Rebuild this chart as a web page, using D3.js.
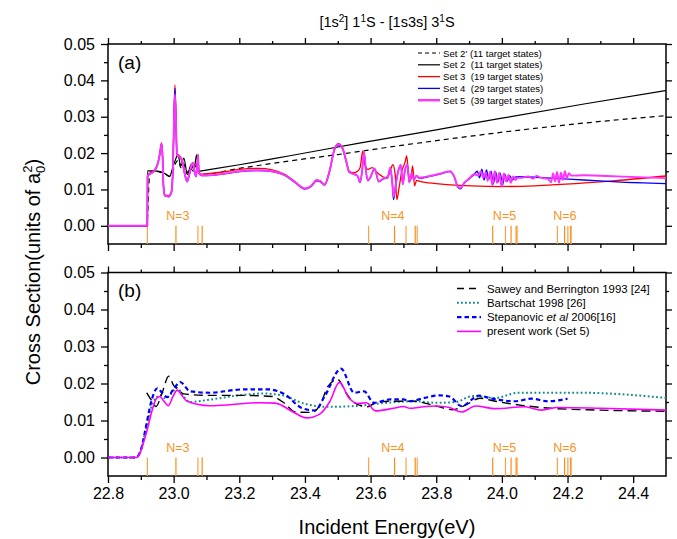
<!DOCTYPE html>
<html>
<head>
<meta charset="utf-8">
<script src="https://cdn.jsdelivr.net/npm/d3@7"></script>
<style>
  body { margin: 0; background: #fff; }
  text { font-family: "Liberation Sans", Arial, sans-serif; }
</style>
</head>
<body>
<div id="chart"></div>
<script>
// ---- data ----
var xMajor = [22.8, 23.0, 23.2, 23.4, 23.6, 23.8, 24.0, 24.2, 24.4];
var xMinor = [22.9, 23.1, 23.3, 23.5, 23.7, 23.9, 24.1, 24.3];
var yMajor = [0.00, 0.01, 0.02, 0.03, 0.04, 0.05];
var yMinor = [0.005, 0.015, 0.025, 0.035, 0.045];

// He thresholds (eV), grouped by n
var thresholds = [22.920, 23.007, 23.074, 23.087,
                  23.594, 23.673, 23.708, 23.736, 23.742,
                  23.972, 24.011, 24.028, 24.043, 24.046,
                  24.169, 24.191, 24.201, 24.209, 24.211];
var nLabels = ["N=3", "N=4", "N=5", "N=6"];
var nLabelPos = [23.013, 23.668, 24.008, 24.192];

// panel (a)
var set2p = [[22.80,0],[22.918,0],[22.921,0.003],[22.925,0.012],[22.93,0.0148],[22.94,0.0150],[22.96,0.0147],
  [22.975,0.0142],[22.988,0.0136],[22.998,0.0150],[23.006,0.0172],[23.014,0.0180],[23.022,0.0160],[23.03,0.0172],
  [23.04,0.0145],[23.05,0.0160],[23.06,0.0150],[23.072,0.0170],[23.078,0.0143],[23.09,0.0142],[23.2,0.0158],
  [23.35,0.0178],[23.5,0.0196],[23.7,0.0222],[23.9,0.0246],[24.1,0.0268],[24.3,0.0287],[24.5,0.0303]];

var set2 = [[22.80,0],[22.920,0],[22.9205,0.0151],[22.94,0.0151],[22.96,0.0149],[22.975,0.0143],[22.988,0.0136],
  [22.997,0.0160],[23.004,0.0178],[23.013,0.0195],[23.022,0.0165],[23.031,0.0186],[23.042,0.0141],[23.053,0.0168],
  [23.062,0.0155],[23.070,0.0195],[23.076,0.0150],[23.09,0.0152],[23.2,0.0168],[23.35,0.0192],[23.57,0.0228],
  [23.8,0.0264],[24.0,0.0296],[24.25,0.0335],[24.5,0.0372]];

var set3 = [[22.80,0],[22.920,0],[22.9205,0.0139],[22.930,0.0146],[22.942,0.0154],[22.952,0.0174],[22.958,0.0200],
  [22.963,0.0229],[22.966,0.0197],[22.969,0.0112],[22.973,0.0085],[22.985,0.0083],[22.993,0.0094],[22.998,0.0165],
  [23.001,0.0300],[23.004,0.0387],[23.007,0.0295],[23.010,0.0198],[23.018,0.0193],[23.026,0.0180],[23.034,0.0144],
  [23.041,0.0124],[23.048,0.0144],[23.055,0.0170],[23.059,0.0174],[23.064,0.0150],[23.068,0.0138],[23.072,0.0167],
  [23.074,0.0197],[23.077,0.0147],[23.085,0.0142],[23.10,0.0143],[23.15,0.0148],[23.20,0.0155],[23.26,0.0158],
  [23.30,0.0154],[23.34,0.0141],[23.37,0.0121],[23.40,0.0103],[23.42,0.0111],[23.435,0.0126],[23.447,0.0123],
  [23.46,0.0114],[23.475,0.0152],[23.49,0.0212],[23.502,0.0226],[23.515,0.0214],[23.525,0.0182],[23.535,0.0150],
  [23.548,0.0146],[23.560,0.0150],[23.568,0.0160],[23.576,0.0205],[23.582,0.0170],[23.592,0.0155],[23.605,0.0160],
  [23.618,0.0148],[23.632,0.0138],[23.645,0.0132],[23.655,0.0140],[23.668,0.0168],[23.675,0.0140],[23.680,0.0072],
  [23.686,0.0100],[23.695,0.0150],[23.705,0.0175],[23.710,0.0192],[23.716,0.0140],[23.722,0.0125],[23.728,0.0165],
  [23.734,0.0110],[23.740,0.0125],[23.75,0.0122],[23.80,0.0116],[23.87,0.0111],[23.99,0.0108],[24.10,0.0110],
  [24.18,0.0114],[24.33,0.0123],[24.5,0.0137]];

var set4 = [[22.80,0],[22.920,0],[22.9205,0.0136],[22.930,0.0143],[22.942,0.0151],[22.952,0.0171],[22.958,0.0197],
  [22.963,0.0225],[22.966,0.0194],[22.969,0.0109],[22.973,0.0082],[22.985,0.0080],[22.993,0.0091],[22.998,0.0160],
  [23.001,0.0295],[23.004,0.0378],[23.007,0.0292],[23.010,0.0195],[23.018,0.0189],[23.026,0.0177],[23.034,0.0141],
  [23.041,0.0121],[23.048,0.0141],[23.055,0.0167],[23.059,0.0171],[23.064,0.0147],[23.068,0.0135],[23.072,0.0164],
  [23.074,0.0193],[23.077,0.0144],[23.085,0.0138],[23.10,0.0138],[23.15,0.0142],[23.20,0.0149],[23.26,0.0152],
  [23.30,0.0149],[23.34,0.0138],[23.37,0.0119],[23.40,0.0101],[23.42,0.0109],[23.435,0.0124],[23.447,0.0121],
  [23.46,0.0112],[23.475,0.0149],[23.49,0.0209],[23.502,0.0223],[23.515,0.0211],[23.525,0.0179],[23.535,0.0147],
  [23.548,0.0142],[23.560,0.0137],[23.568,0.0119],[23.574,0.0149],[23.580,0.0202],[23.586,0.0149],[23.592,0.0124],
  [23.600,0.0134],[23.612,0.0157],[23.625,0.0121],[23.638,0.0129],[23.652,0.0132],[23.660,0.0159],[23.666,0.0119],
  [23.670,0.0072],[23.676,0.0109],[23.684,0.0149],[23.692,0.0167],[23.698,0.0114],[23.705,0.0154],[23.712,0.0167],
  [23.718,0.0119],[23.725,0.0144],[23.732,0.0127],[23.740,0.0137],[23.748,0.0131],[23.78,0.0136],[23.81,0.0142],
  [23.842,0.0149],[23.855,0.0134],[23.866,0.0106],[23.874,0.0102],[23.885,0.0117],[23.90,0.0129],[23.915,0.0141],
  [23.925,0.0150],[23.932,0.0132],[23.939,0.0156],[23.946,0.0126],[23.953,0.0154],[23.960,0.0128],[23.967,0.0150],
  [23.974,0.0115],[23.981,0.0148],[23.988,0.0120],[23.995,0.0145],[24.002,0.0112],[24.009,0.0142],[24.016,0.0122],
  [24.024,0.0138],[24.032,0.0126],[24.040,0.0134],[24.05,0.0135],[24.15,0.0131],[24.25,0.0126],[24.35,0.0121],
  [24.5,0.0116]];

var set5 = [[22.80,0],[22.920,0],[22.9205,0.0137],[22.930,0.0144],[22.942,0.0152],[22.952,0.0172],[22.958,0.0198],
  [22.963,0.0226],[22.966,0.0195],[22.969,0.0110],[22.973,0.0083],[22.985,0.0081],[22.993,0.0092],[22.998,0.0160],
  [23.001,0.0290],[23.004,0.0362],[23.007,0.0290],[23.010,0.0196],[23.018,0.0190],[23.026,0.0178],[23.034,0.0142],
  [23.041,0.0122],[23.048,0.0142],[23.055,0.0168],[23.059,0.0172],[23.064,0.0148],[23.068,0.0136],[23.072,0.0165],
  [23.074,0.0194],[23.077,0.0145],[23.085,0.0139],[23.10,0.0139],[23.15,0.0143],[23.20,0.0150],[23.26,0.0153],
  [23.30,0.0150],[23.34,0.0139],[23.37,0.0120],[23.40,0.0102],[23.42,0.0110],[23.435,0.0125],[23.447,0.0122],
  [23.46,0.0113],[23.475,0.0150],[23.49,0.0210],[23.502,0.0224],[23.515,0.0212],[23.525,0.0180],[23.535,0.0148],
  [23.548,0.0143],[23.560,0.0138],[23.568,0.0120],[23.574,0.0150],[23.580,0.0203],[23.586,0.0150],[23.592,0.0125],
  [23.600,0.0135],[23.612,0.0158],[23.625,0.0122],[23.638,0.0130],[23.652,0.0133],[23.660,0.0160],[23.666,0.0120],
  [23.670,0.0080],[23.676,0.0110],[23.684,0.0150],[23.692,0.0168],[23.698,0.0115],[23.705,0.0155],[23.712,0.0168],
  [23.718,0.0120],[23.725,0.0145],[23.732,0.0128],[23.740,0.0138],[23.748,0.0132],[23.78,0.0137],[23.81,0.0143],
  [23.842,0.0150],[23.855,0.0135],[23.866,0.0108],[23.874,0.0104],[23.885,0.0118],[23.90,0.0130],[23.915,0.0142],
  [23.928,0.0138],[23.936,0.0150],[23.943,0.0132],[23.950,0.0146],[23.957,0.0124],[23.964,0.0148],[23.971,0.0112],
  [23.978,0.0150],[23.985,0.0118],[23.992,0.0146],[23.999,0.0108],[24.006,0.0144],[24.013,0.0122],[24.020,0.0140],
  [24.027,0.0118],[24.034,0.0136],[24.041,0.0126],[24.048,0.0132],
  [24.06,0.0132],[24.08,0.0136],[24.095,0.0130],[24.105,0.0137],[24.12,0.0132],[24.14,0.0129],[24.150,0.0120],
  [24.156,0.0144],[24.162,0.0122],[24.168,0.0148],[24.174,0.0118],[24.180,0.0146],[24.186,0.0126],[24.192,0.0150],
  [24.198,0.0130],[24.204,0.0145],[24.212,0.0138],[24.25,0.0139],[24.35,0.0136],[24.5,0.0131]];

// panel (b)
var sawey = [[22.918,0.0175],[22.932,0.0155],[22.946,0.0138],[22.965,0.0175],[22.985,0.0220],[23.000,0.0195],
  [23.012,0.0185],[23.030,0.0172],[23.10,0.0168],[23.20,0.0168],[23.30,0.0165],[23.34,0.0145],[23.37,0.0123],
  [23.42,0.0122],[23.445,0.0140],[23.47,0.0192],[23.50,0.0211],[23.525,0.0175],[23.55,0.0148],[23.59,0.0137],
  [23.62,0.0150],[23.66,0.0152],[23.73,0.0152],[23.80,0.0139],[23.85,0.0129],[23.89,0.0142],[23.933,0.0160],
  [23.98,0.0152],[24.06,0.0141],[24.15,0.0133],[24.30,0.0128],[24.50,0.0125]];

var bartschat = [[22.80,0],[22.885,0],[22.90,0.0020],[22.915,0.0075],[22.93,0.0130],[22.945,0.0160],[22.96,0.0168],
  [22.975,0.0160],[22.99,0.0170],[23.01,0.0188],[23.03,0.0165],[23.05,0.0150],[23.10,0.0155],[23.20,0.0168],
  [23.27,0.0173],[23.33,0.0168],[23.40,0.0145],[23.47,0.0137],[23.55,0.0139],[23.65,0.0148],[23.73,0.0152],
  [23.80,0.0148],[23.86,0.0150],[23.91,0.0166],[23.98,0.0161],[24.05,0.0175],[24.15,0.0175],[24.24,0.0175],
  [24.50,0.0161]];

var stepanovic = [[22.80,0],[22.885,0],[22.90,0.0020],[22.915,0.0080],[22.93,0.0145],[22.95,0.0187],[22.965,0.0175],
  [22.98,0.0163],[23.00,0.0185],[23.02,0.0204],[23.05,0.0179],[23.11,0.0175],[23.21,0.0184],[23.29,0.0184],
  [23.34,0.0170],[23.39,0.0134],[23.43,0.0127],[23.46,0.0165],[23.51,0.0240],[23.55,0.0175],[23.58,0.0179],
  [23.61,0.0148],[23.66,0.0157],[23.70,0.0157],[23.72,0.0152],[23.76,0.0160],[23.81,0.0168],[23.84,0.0165],
  [23.877,0.0139],[23.93,0.0167],[23.97,0.0159],[24.04,0.0152],[24.09,0.0159],[24.14,0.0152],[24.20,0.0159]];

var present = [[22.80,0],[22.887,0],[22.897,0.0011],[22.908,0.0040],[22.918,0.0070],[22.933,0.0123],[22.948,0.0160],
  [22.958,0.0165],[22.968,0.0155],[22.984,0.0140],[22.998,0.0165],[23.011,0.0182],[23.025,0.0168],[23.041,0.0152],
  [23.11,0.0140],[23.263,0.0148],[23.31,0.0147],[23.364,0.0123],[23.405,0.0107],[23.446,0.0118],[23.475,0.0150],
  [23.505,0.0203],[23.535,0.0160],[23.56,0.0146],[23.587,0.0148],[23.615,0.0126],[23.67,0.0133],[23.70,0.0138],
  [23.72,0.0133],[23.75,0.0136],[23.80,0.0139],[23.84,0.0135],[23.878,0.0123],[23.92,0.0139],[23.98,0.0132],
  [24.07,0.0137],[24.12,0.0128],[24.17,0.0135],[24.30,0.0133],[24.50,0.0128]];

// ---- chart ----
var width = 677, height = 539;
var left = 108, right = 666;
var orange = "#f7931e";

var svg = d3.select("#chart")
    .append("svg")
        .attr("width", width)
        .attr("height", height);

var x = d3.scaleLinear()
    .domain([22.8, 24.5])
    .range([left, right]);

var yA = d3.scaleLinear().domain([-0.005, 0.05]).range([244, 44]);
var yB = d3.scaleLinear().domain([-0.005, 0.05]).range([476, 272.5]);

function drawAxes(y, withLabels, id) {
    var top = y.range()[1], bottom = y.range()[0];

    svg.append("clipPath").attr("id", id)
        .append("rect")
        .attr("x", left).attr("y", top)
        .attr("width", right - left).attr("height", bottom - top);

    var g = svg.append("g").attr("class", "axes");

    var bAxis = d3.axisBottom(x).tickValues(xMajor).tickSize(7).tickSizeOuter(0).tickPadding(5)
        .tickFormat(withLabels ? d3.format(".1f") : "");
    g.append("g").attr("transform", "translate(0," + bottom + ")").call(bAxis);
    g.append("g").attr("transform", "translate(0," + bottom + ")")
        .call(d3.axisBottom(x).tickValues(xMinor).tickSize(4).tickSizeOuter(0).tickFormat(""));

    g.append("g").attr("transform", "translate(0," + top + ")")
        .call(d3.axisTop(x).tickValues(xMajor).tickSize(6).tickSizeOuter(0).tickFormat(""));
    g.append("g").attr("transform", "translate(0," + top + ")")
        .call(d3.axisTop(x).tickValues(xMinor).tickSize(3).tickSizeOuter(0).tickFormat(""));

    g.append("g").attr("transform", "translate(" + left + ",0)")
        .call(d3.axisLeft(y).tickValues(yMajor).tickSize(7).tickSizeOuter(0).tickPadding(6)
            .tickFormat(d3.format(".2f")));
    g.append("g").attr("transform", "translate(" + left + ",0)")
        .call(d3.axisLeft(y).tickValues(yMinor).tickSize(4).tickSizeOuter(0).tickFormat(""));

    g.append("g").attr("transform", "translate(" + right + ",0)")
        .call(d3.axisRight(y).tickValues(yMajor).tickSize(6).tickSizeOuter(0).tickFormat(""));
    g.append("g").attr("transform", "translate(" + right + ",0)")
        .call(d3.axisRight(y).tickValues(yMinor).tickSize(3).tickSizeOuter(0).tickFormat(""));

    g.selectAll(".domain").remove();
    g.selectAll(".tick line").attr("stroke", "#000").attr("stroke-width", 1.3);
    g.selectAll(".tick text").attr("fill", "#000").style("font-size", "16px")
        .style("font-family", "'Liberation Sans', Arial, sans-serif");

    g.append("rect")
        .attr("x", left).attr("y", top)
        .attr("width", right - left).attr("height", bottom - top)
        .attr("fill", "none").attr("stroke", "#000").attr("stroke-width", 1.5);

    // threshold markers
    svg.append("g")
        .selectAll("line")
        .data(thresholds)
        .enter()
        .append("line")
            .attr("x1", function(d) { return x(d); })
            .attr("x2", function(d) { return x(d); })
            .attr("y1", y(0))
            .attr("y2", bottom)
            .attr("stroke", function(d, i) { return i % 2 ? "#ff8c1a" : "#f9a24b"; })
            .attr("stroke-width", 1.2);

    svg.append("g")
        .selectAll("text")
        .data(nLabels)
        .enter()
        .append("text")
            .attr("x", function(d, i) { return x(nLabelPos[i]); })
            .attr("y", y(0) - 6)
            .attr("text-anchor", "middle")
            .attr("fill", orange)
            .style("font-size", "12.5px")
            .text(function(d) { return d; });
}

function drawLine(y, data, clip, color, w, dash) {
    svg.append("path")
        .datum(data)
        .attr("clip-path", "url(#" + clip + ")")
        .attr("fill", "none")
        .attr("stroke", color)
        .attr("stroke-width", w)
        .attr("stroke-dasharray", dash || null)
        .attr("stroke-linejoin", "round")
        .attr("d", d3.line()
            .x(function(d) { return x(d[0]); })
            .y(function(d) { return y(d[1]); })
            .curve(d3.curveMonotoneX));
}

// panel (a)
drawAxes(yA, false, "clipA");
drawLine(yA, set2p, "clipA", "#000", 1.2, "5,4");
drawLine(yA, set2, "clipA", "#000", 1.2);
drawLine(yA, set3, "clipA", "#ff0000", 1.3);
drawLine(yA, set4, "clipA", "#0000ff", 1.3);
drawLine(yA, set5, "clipA", "#ff33ff", 1.9);

// panel (b)
drawAxes(yB, true, "clipB");
drawLine(yB, bartschat, "clipB", "#168a8a", 2, "1.8,2.4");
drawLine(yB, sawey, "clipB", "#000", 1.4, "9,5");
drawLine(yB, stepanovic, "clipB", "#0000ff", 2.2, "4.5,3");
drawLine(yB, present, "clipB", "#ff00ff", 1.6);

// panel tags
svg.append("text").attr("x", 118).attr("y", 69).style("font-size", "19px").text("(a)");
svg.append("text").attr("x", 118).attr("y", 297).style("font-size", "19px").text("(b)");

// legend (a)
var legA = [
    { label: "Set 2' (11 target states)", color: "#000", w: 1.2, dash: "4,3" },
    { label: "Set 2  (11 target states)", color: "#000", w: 1.2 },
    { label: "Set 3  (19 target states)", color: "#ff0000", w: 1.3 },
    { label: "Set 4  (29 target states)", color: "#0000ff", w: 1.3 },
    { label: "Set 5  (39 target states)", color: "#ff33ff", w: 2.4 }
];
var la = svg.append("g");
legA.forEach(function(d, i) {
    var cy = 53 + i * 11.8;
    la.append("line").attr("x1", 418).attr("x2", 440).attr("y1", cy).attr("y2", cy)
        .attr("stroke", d.color).attr("stroke-width", d.w).attr("stroke-dasharray", d.dash || null);
    la.append("text").attr("x", 443).attr("y", cy + 3.5)
        .style("font-size", "9.6px").style("white-space", "pre").text(d.label);
});

// legend (b)
var legB = [
    { label: "Sawey and Berrington 1993 [24]", color: "#000", w: 1.4, dash: "7,5" },
    { label: "Bartschat 1998 [26]", color: "#168a8a", w: 2, dash: "1.8,2.2" },
    { label: "Stepanovic", italic: " et al", rest: " 2006[16]", color: "#0000ff", w: 2.2, dash: "4.5,3" },
    { label: "present work (Set 5)", color: "#ff00ff", w: 1.6 }
];
var lb = svg.append("g");
legB.forEach(function(d, i) {
    var cy = 288.5 + i * 14.3;
    lb.append("line").attr("x1", 457).attr("x2", 481).attr("y1", cy).attr("y2", cy)
        .attr("stroke", d.color).attr("stroke-width", d.w).attr("stroke-dasharray", d.dash || null);
    var t = lb.append("text").attr("x", 487).attr("y", cy + 4)
        .style("font-size", "11.4px").style("white-space", "pre").text(d.label);
    if (d.italic) {
        t.append("tspan").style("font-style", "italic").text(d.italic);
        t.append("tspan").text(d.rest);
    }
});

// title
var title = svg.append("text").attr("x", 387).attr("y", 27).attr("text-anchor", "middle")
    .style("font-size", "14.5px");
title.append("tspan").text("[1s");
title.append("tspan").attr("dy", -5).style("font-size", "10px").text("2");
title.append("tspan").attr("dy", 5).text("] 1");
title.append("tspan").attr("dy", -5).style("font-size", "10px").text("1");
title.append("tspan").attr("dy", 5).text("S - [1s3s] 3");
title.append("tspan").attr("dy", -5).style("font-size", "10px").text("1");
title.append("tspan").attr("dy", 5).text("S");

// axis titles
svg.append("text")
    .attr("x", (left + right) / 2)
    .attr("y", 534)
    .attr("text-anchor", "middle")
    .style("font-size", "20px")
    .text("Incident Energy(eV)");

var yt = svg.append("text")
    .attr("transform", "translate(40,272) rotate(-90)")
    .attr("text-anchor", "middle")
    .style("font-size", "20px");
yt.append("tspan").text("Cross Section(units of a");
yt.append("tspan").attr("dy", 5).style("font-size", "13px").text("0");
yt.append("tspan").attr("dy", -13).attr("dx", -7).style("font-size", "13px").text("2");
yt.append("tspan").attr("dy", 8).text(")");
</script>
</body>
</html>
